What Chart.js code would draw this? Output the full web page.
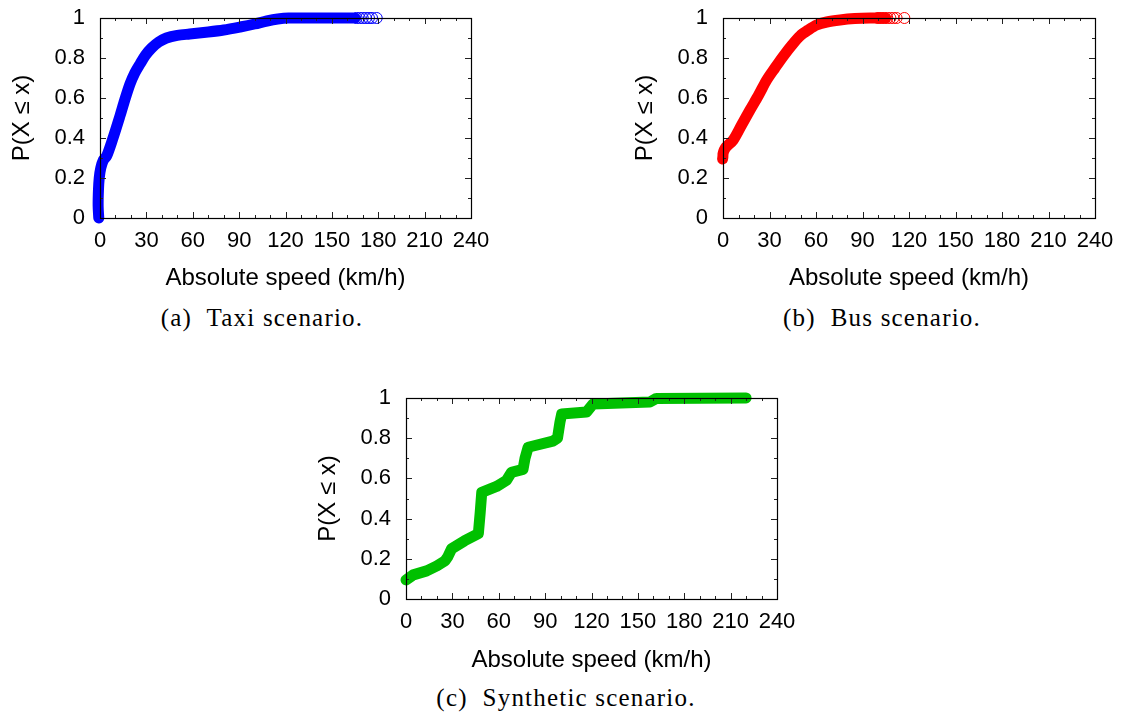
<!DOCTYPE html>
<html>
<head>
<meta charset="utf-8">
<script src="https://cdn.jsdelivr.net/npm/chart.js@4.4.1/dist/chart.umd.min.js"></script>
<style>
  body { margin: 0; width: 1124px; height: 722px; background: #fff; position: relative; overflow: hidden; }
  .box { position: absolute; }
  .cap { position: absolute; font-family: "Liberation Serif", serif; font-size: 25px; letter-spacing: 1.2px;
         white-space: pre; transform: translateX(-50%); color: #000; }
</style>
</head>
<body>
<div class="box" style="left:0px;top:0px;width:520px;height:300px"><canvas id="chart-taxi"></canvas></div>
<div class="box" style="left:623px;top:0px;width:501px;height:300px"><canvas id="chart-bus"></canvas></div>
<div class="box" style="left:306px;top:380px;width:520px;height:302px"><canvas id="chart-synthetic"></canvas></div>
<div class="cap" style="left:262px;top:304px">(a)  Taxi scenario.</div>
<div class="cap" style="left:882px;top:304px">(b)  Bus scenario.</div>
<div class="cap" style="left:566px;top:684px">(c)  Synthetic scenario.</div>
<script>
// =========================
// DATA
// =========================

const X_TICKS = [0, 30, 60, 90, 120, 150, 180, 210, 240];
const Y_TICKS = [0, 0.2, 0.4, 0.6, 0.8, 1];
const X_TITLE = "Absolute speed (km/h)";
const Y_TITLE = "P(X \u2264 x)";

// taxi scenario (blue)
const taxiSpeed = [-0.8, -1.2, -1, -0.5, 0.5, 2.2, 4.3, 8, 12.9, 16, 19.4, 22.5, 25.9, 29.5, 33.4, 38, 43, 50, 58, 70, 80, 90.6, 100, 108, 115, 122, 140, 165];
const taxiCdf   = [0, 0.06, 0.14, 0.2, 0.25, 0.29, 0.31, 0.39, 0.51, 0.59, 0.67, 0.725, 0.77, 0.815, 0.85, 0.88, 0.9, 0.913, 0.92, 0.93, 0.94, 0.955, 0.97, 0.985, 0.995, 1, 1, 1];
const taxiTailSpeed = [166, 168, 170, 172, 174, 176, 179];
const taxiTailCdf   = [1, 1, 1, 1, 1, 1, 1];

// bus scenario (red)
const busSpeed = [-0.3, 0, 0.8, 2, 6.6, 12, 17.4, 23, 28.2, 33.5, 39, 44.5, 49.7, 55, 60.4, 67, 75.5, 85, 95, 105];
const busCdf   = [0.295, 0.32, 0.34, 0.355, 0.39, 0.465, 0.54, 0.615, 0.69, 0.75, 0.81, 0.865, 0.91, 0.94, 0.965, 0.98, 0.99, 0.997, 1, 1];
const busTailSpeed = [100, 102, 104, 106, 108, 110, 112, 117];
const busTailCdf   = [1, 1, 1, 1, 1, 1, 1, 1];

// synthetic scenario (green)
const synSpeed = [0, 4.7, 13.4, 20, 25.2, 27, 29.5, 38, 46.8, 48, 49, 58.6, 65, 68.2, 75.7, 77, 79, 95, 98, 99.6, 100.7, 116.8, 121, 157.8, 162, 220];
const synCdf   = [0.095, 0.12, 0.14, 0.165, 0.19, 0.21, 0.25, 0.29, 0.325, 0.43, 0.53, 0.56, 0.59, 0.63, 0.645, 0.7, 0.755, 0.785, 0.8, 0.88, 0.92, 0.93, 0.97, 0.98, 0.998, 1];
const synTailSpeed = [];
const synTailCdf   = [];


// =========================
// HELPERS
// =========================

const FONT = { family: "'Liberation Sans', Arial, sans-serif", size: 22 };
const TITLE_FONT = { family: "'Liberation Sans', Arial, sans-serif", size: 24 };

function toPoints(xs, ys) {
  return xs.map((v, i) => ({ x: v, y: ys[i] }));
}

// border + inward ticks on all four sides, drawn on top of the data
const framePlugin = {
  id: "frame",
  afterDatasetsDraw(chart) {
    const { ctx, chartArea: a, scales: { x, y } } = chart;
    ctx.save();
    ctx.strokeStyle = "#222";
    ctx.lineWidth = 1;
    ctx.beginPath();
    for (let v = X_TICKS[0]; v <= X_TICKS[X_TICKS.length - 1]; v += 10) {
      const px = Math.round(x.getPixelForValue(v)) + 0.5;
      const len = v % 30 === 0 ? 6 : 3;
      ctx.moveTo(px, a.bottom); ctx.lineTo(px, a.bottom - len);
      ctx.moveTo(px, a.top); ctx.lineTo(px, a.top + len);
    }
    for (let i = 0; i <= 10; i++) {
      const py = Math.round(y.getPixelForValue(i / 10)) + 0.5;
      const len = i % 2 === 0 ? 6 : 3;
      ctx.moveTo(a.left, py); ctx.lineTo(a.left + len, py);
      ctx.moveTo(a.right, py); ctx.lineTo(a.right - len, py);
    }
    ctx.stroke();
    ctx.strokeStyle = "#000";
    ctx.lineWidth = 1.2;
    ctx.strokeRect(Math.round(a.left) + 0.5, Math.round(a.top) + 0.5,
                   Math.round(a.right - a.left), Math.round(a.bottom - a.top));
    ctx.restore();
  }
};

function makeChart(id, xs, ys, tailX, tailY, color, tension, rightPad, axisHeight) {
  const canvas = document.getElementById(id);
  return new Chart(canvas.getContext("2d"), {
    type: "scatter",
    data: {
      datasets: [
        {
          data: toPoints(xs, ys),
          showLine: true,
          borderColor: color,
          borderWidth: 11,
          borderCapStyle: "round",
          borderJoinStyle: "round",
          tension: tension,
          pointRadius: 0,
          clip: false
        },
        {
          data: toPoints(tailX, tailY),
          showLine: false,
          pointStyle: "circle",
          pointRadius: 5.5,
          borderWidth: 1,
          borderColor: color,
          backgroundColor: "rgba(0,0,0,0)",
          clip: false
        }
      ]
    },
    options: {
      responsive: true,
      maintainAspectRatio: false,
      animation: false,
      layout: { padding: { top: 18, right: rightPad, bottom: 0, left: 0 } },
      plugins: { legend: { display: false }, tooltip: { enabled: false } },
      scales: {
        x: {
          type: "linear",
          min: X_TICKS[0],
          max: X_TICKS[X_TICKS.length - 1],
          afterBuildTicks: s => { s.ticks = X_TICKS.map(v => ({ value: v })); },
          afterFit: s => { s.height = axisHeight; s.paddingLeft = 0; s.paddingRight = 0; },
          grid: { display: false, drawTicks: false },
          border: { display: false },
          ticks: { color: "#000", font: FONT, padding: 10, maxRotation: 0, autoSkip: false },
          title: { display: true, text: X_TITLE, color: "#000", font: TITLE_FONT, padding: { top: 0, bottom: 7 } }
        },
        y: {
          min: 0,
          max: 1,
          afterBuildTicks: s => { s.ticks = Y_TICKS.map(v => ({ value: v })); },
          afterFit: s => { s.width = 100; s.paddingTop = 0; s.paddingBottom = 0; },
          grid: { display: false, drawTicks: false },
          border: { display: false },
          ticks: { color: "#000", font: FONT, padding: 15, callback: v => String(Math.round(v * 10) / 10) },
          title: { display: true, text: Y_TITLE, color: "#000", font: TITLE_FONT, padding: { top: 8, bottom: 0 } }
        }
      }
    },
    plugins: [framePlugin]
  });
}


// =========================
// INIT
// =========================

makeChart("chart-taxi", taxiSpeed, taxiCdf, taxiTailSpeed, taxiTailCdf, "#0000ff", 0.3, 49, 82);
makeChart("chart-bus", busSpeed, busCdf, busTailSpeed, busTailCdf, "#ff0000", 0.3, 29, 82);
makeChart("chart-synthetic", synSpeed, synCdf, synTailSpeed, synTailCdf, "#00c000", 0, 49, 83);
</script>
</body>
</html>
